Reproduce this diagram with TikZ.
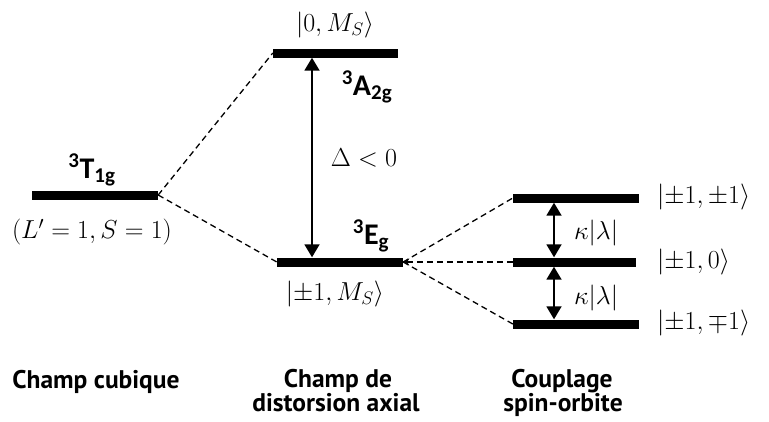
\RequirePackage{fix-cm}
\documentclass[tikz,border=0pt]{standalone}
\usepackage{fontspec}
\usetikzlibrary{arrows.meta}
\newfontfamily\termfont{Carlito}
\newfontfamily\capfont{PT Sans}
\begin{document}
\begin{tikzpicture}[x=1pt,y=-1pt,
  bar/.style={fill=black, draw=none, inner sep=0pt, minimum height=9pt},
  conn/.style={line width=1.3pt, dash pattern=on 6pt off 4pt},
  gap/.style={line width=1.9pt, {Triangle[length=13pt,width=15pt]}-{Triangle[length=13pt,width=15pt]}},
  mathlab/.style={font=\fontsize{26}{30}\selectfont, inner sep=0pt},
  term/.style={font=\termfont\bfseries\fontsize{30}{34}\selectfont, inner sep=0pt},
  captext/.style={font=\capfont\bfseries\fontsize{25.5}{28}\selectfont, align=center, inner sep=0pt}]
\useasboundingbox[fill=white] (0,0) rectangle (769,421);
% levels
\node[bar, minimum width=126pt] (t1g) at (95,195) {};
\node[bar, minimum width=125pt] (a2g) at (335.5,53) {};
\node[bar, minimum width=126pt] (eg) at (340,262) {};
\node[bar, minimum width=126pt] (p1) at (576,198) {};
\node[bar, minimum width=123pt] (p0) at (574.5,262) {};
\node[bar, minimum width=126pt] (m1) at (576,324) {};
% dashed correlations
\draw[conn] (t1g.east) -- (a2g.west);
\draw[conn] (t1g.east) -- (eg.west);
\draw[conn] (eg.east) -- (p1.west);
\draw[conn, {Stealth[length=6pt,width=7pt]}-] (eg.east) -- (p0.west);
\draw[conn] (eg.east) -- (m1.west);
% gaps
\draw[gap] ([xshift=-23.5pt]a2g.south) -- ([xshift=-28pt]eg.north);
\draw[gap] ([xshift=-22pt]p1.south) -- ([xshift=-20.5pt]p0.north);
\draw[gap] ([xshift=-20.5pt]p0.south) -- ([xshift=-22pt]m1.north);
% labels
\node[term] (lT) at (92,170) {\textsuperscript{3}T\textsubscript{1g}};
\node[term] (lA) at (367,87) {\textsuperscript{3}A\textsubscript{2g}};
\node[term] (lE) at (371,236) {\textsuperscript{3}E\textsubscript{g}};
\node[mathlab] (lLS) at (92,232) {$(L'=1,S=1)$};
\node[mathlab] (lk0) at (335,25) {$|0,M_S\rangle$};
\node[mathlab] (lD) at (364,158) {$\Delta<0$};
\node[mathlab] (lk1) at (335,294) {$|{\pm}1,M_S\rangle$};
\node[mathlab, anchor=west] (lp1) at (657,197) {$|{\pm}1,{\pm}1\rangle$};
\node[mathlab, anchor=west] (lp0) at (657,262) {$|{\pm}1,0\rangle$};
\node[mathlab, anchor=west] (lm1) at (657,323) {$|{\pm}1,{\mp}1\rangle$};
\node[mathlab] (kap1) at (596,233) {$\kappa|\lambda|$};
\node[mathlab] (kap2) at (596,298) {$\kappa|\lambda|$};
% captions
\node[captext, anchor=base] (c1) at (96,388) {Champ cubique};
\node[captext, anchor=base] (c2) at (338,387) {Champ de};
\node[captext, anchor=base] (c2b) at (336,411) {distorsion axial};
\node[captext, anchor=base] (c3) at (562,387) {Couplage};
\node[captext, anchor=base] (c3b) at (563,411) {spin-orbite};
\end{tikzpicture}
\end{document}
